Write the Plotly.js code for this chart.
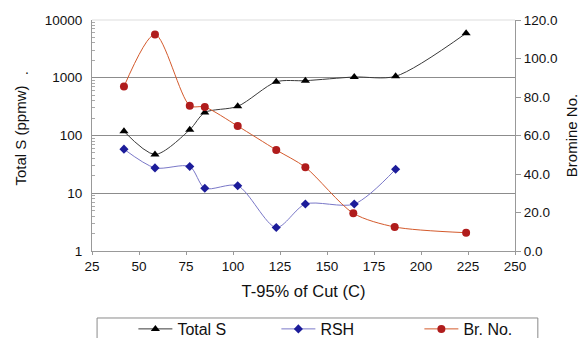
<!DOCTYPE html>
<html>
<head>
<meta charset="utf-8">
<script src="https://cdn.plot.ly/plotly-3.0.1.min.js"></script>
<style>html,body{margin:0;padding:0;background:#fff;}#chart{width:587px;height:338px;}</style>
</head>
<body>
<div id="chart"></div>
<script>
// Temperature T-95% of cut (C)
const totalS_T = [42, 58.5, 77, 85, 102.5, 123, 138.5, 164.5, 186.5, 224];
const totalS = [118, 47, 126, 250, 320, 850, 890, 1030, 1060, 5900];

const rsh_T = [42, 58.5, 77, 85, 102.5, 123, 138.5, 164.5, 186.5];
const rsh = [58, 27.5, 29, 12.2, 13.5, 2.55, 6.5, 6.5, 26];

const brNo_T = [42, 58.5, 77, 85, 102.5, 123, 138.5, 164, 186, 224];
const brNo = [85.4, 112.5, 75.5, 74.8, 64.9, 52.5, 43.5, 19.6, 12.5, 9.5];

const xTickVals = [25, 50, 75, 100, 125, 150, 175, 200, 225, 250];
const yLeftTickVals = [1, 10, 100, 1000, 10000];
const yLeftTickText = ['1', '10', '100', '1000', '10000'];
const yRightTickVals = [0, 20, 40, 60, 80, 100, 120];

// minor log ticks (2..9 within each decade)
const minorVals = [];
for (let d = 1; d < 10000; d *= 10) for (let k = 2; k <= 9; k++) minorVals.push(d * k);

const FONT = 'Liberation Sans, Arial, sans-serif';

const traces = [
  {
    x: totalS_T, y: totalS, name: 'Total S', type: 'scatter', mode: 'lines+markers',
    line: {color: '#3a3a3a', width: 1, shape: 'spline', smoothing: 0.8},
    marker: {symbol: 'triangle-up', size: 8, color: '#000000'},
    yaxis: 'y'
  },
  {
    x: rsh_T, y: rsh, name: 'RSH', type: 'scatter', mode: 'lines+markers',
    line: {color: '#7a78c8', width: 1, shape: 'spline', smoothing: 0.8},
    marker: {symbol: 'diamond', size: 7, color: '#1c1c9a'},
    yaxis: 'y'
  },
  {
    x: brNo_T, y: brNo, name: 'Br. No.', type: 'scatter', mode: 'lines+markers',
    line: {color: '#d45a2c', width: 1, shape: 'spline', smoothing: 0.8},
    marker: {symbol: 'circle', size: 8, color: '#b01c1c'},
    yaxis: 'y2'
  }
];

const layout = {
  width: 587, height: 338,
  margin: {l: 92, r: 72, t: 20, b: 87, autoexpand: false},
  paper_bgcolor: '#ffffff', plot_bgcolor: '#ffffff',
  font: {family: FONT, color: '#111111', size: 13},
  showlegend: true,
  legend: {
    orientation: 'h', x: 1.112, xanchor: 'right', y: -0.264, yanchor: 'top',
    borderwidth: 0, bgcolor: 'rgba(255,255,255,0)',
    font: {family: FONT, size: 16, color: '#111'},
    entrywidth: 94, entrywidthmode: 'pixels', itemwidth: 34,
    tracegroupgap: 0
  },
  xaxis: {
    range: [25, 250], tickvals: xTickVals, ticks: 'outside', ticklen: 3, tickcolor: '#999',
    showline: true, linecolor: '#999', linewidth: 1, showgrid: false, zeroline: false,
    tickfont: {family: FONT, size: 13.5, color: '#111'},
    title: {text: 'T-95% of Cut (C)', font: {family: FONT, size: 16.5, color: '#111'}, standoff: 12}
  },
  yaxis: {
    type: 'log', range: [0, 4], tickvals: yLeftTickVals, ticktext: yLeftTickText,
    ticks: 'outside', ticklen: 0, ticklabelstandoff: 6,
    showline: true, linecolor: '#999', linewidth: 1,
    showgrid: true, gridcolor: '#8c8c8c', gridwidth: 1, zeroline: false,
    minor: {tickmode: 'array', tickvals: minorVals, ticks: 'inside', ticklen: 3, tickcolor: '#aaa', showgrid: false},
    tickfont: {family: FONT, size: 13.5, color: '#111'},
    title: {text: 'Total S (ppmw)', font: {family: FONT, size: 15, color: '#111'}, standoff: 14}
  },
  yaxis2: {
    overlaying: 'y', side: 'right', range: [0, 120], tickvals: yRightTickVals, tickformat: '.1f',
    ticks: 'outside', ticklen: 5, tickcolor: '#999',
    showline: true, linecolor: '#999', linewidth: 1, showgrid: false, zeroline: false,
    tickfont: {family: FONT, size: 13.5, color: '#111'},
    title: {text: 'Bromine No.', font: {family: FONT, size: 15, color: '#111'}, standoff: 10}
  },
  shapes: [
    // light top border of plot area
    {type: 'line', xref: 'paper', yref: 'paper', x0: 0, x1: 1, y0: 1, y1: 1,
     line: {color: '#dddddd', width: 1}},
    // legend frame (runs past the bottom edge, as in the reference)
    {type: 'rect', xref: 'paper', yref: 'paper', x0: 0.012, x1: 1.054, y0: -0.29, y1: -0.45,
     line: {color: '#8a8a8a', width: 1}, fillcolor: 'rgba(0,0,0,0)', layer: 'below'}
  ],
  annotations: [
    {text: '.', xref: 'paper', yref: 'paper', x: -0.163, y: 0.832, showarrow: false,
     font: {family: FONT, size: 14, color: '#111'}}
  ]
};

Plotly.newPlot('chart', traces, layout, {displayModeBar: false, staticPlot: true});
</script>
</body>
</html>
